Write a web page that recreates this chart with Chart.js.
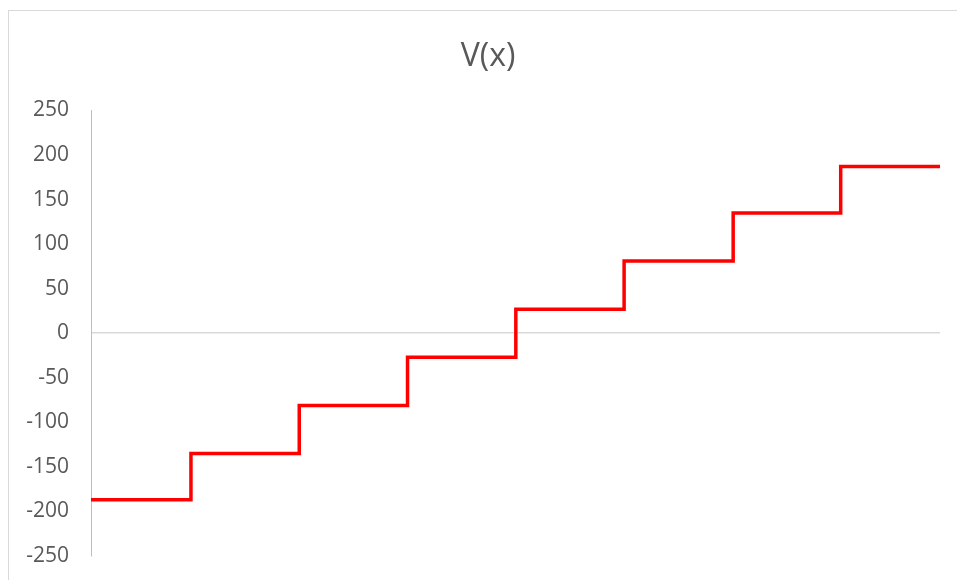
<!DOCTYPE html>
<html>
<head>
<meta charset="utf-8">
<script src="https://cdn.jsdelivr.net/npm/chart.js@4"></script>
<style>
html,body{margin:0;padding:0;background:#fff;overflow:hidden;}
#wrap{position:relative;width:957px;height:580px;}
#frame{position:absolute;left:8px;top:10px;width:1200px;height:1200px;border:1px solid #d9d9d9;box-sizing:border-box;}
canvas{position:absolute;left:0;top:0;}
</style>
</head>
<body>
<div id="wrap"><div id="frame"></div><canvas id="c" width="957" height="580"></canvas></div>
<script>
// Step positions along x (start, jumps, end)
const xBreaks = [0, 0.923, 1.923, 2.923, 3.923, 4.923, 5.93, 6.923, 7.84];
// V(x) value on each segment
const vValues = [-187, -135, -81, -27, 27, 81, 135, 187];
const yTicks = [-250, -200, -150, -100, -50, 0, 50, 100, 150, 200, 250];

const pts = xBreaks.map((x, i) => ({x: x, y: vValues[Math.min(i, vValues.length - 1)]}));

new Chart(document.getElementById('c'), {
  type: 'line',
  data: {
    datasets: [{
      data: pts,
      stepped: 'before',
      borderColor: '#ff0000',
      borderWidth: 3.5,
      pointRadius: 0,
      fill: false,
      yAxisID: 'y'
    }]
  },
  options: {
    responsive: false,
    animation: false,
    layout: {padding: {left: 0, right: -19, top: 0, bottom: 24}},
    plugins: {
      legend: {display: false},
      tooltip: {enabled: false},
      title: {
        display: true,
        text: 'V(x)',
        color: '#595959',
        font: {family: 'Open Sans', size: 32, weight: 'normal'},
        padding: {top: 38, bottom: 34}
      }
    },
    scales: {
      x: {
        type: 'linear',
        min: xBreaks[0],
        max: xBreaks[xBreaks.length - 1],
        display: false
      },
      y: {
        min: yTicks[0],
        max: yTicks[yTicks.length - 1],
        afterBuildTicks: s => { s.ticks = yTicks.map(v => ({value: v})); },
        afterFit: s => { s.width = 91; s.paddingBottom = 0; },
        border: {display: true, color: '#bfbfbf', width: 1},
        grid: {
          drawTicks: false,
          color: ctx => (ctx.tick && ctx.tick.value === 0) ? '#d9d9d9' : 'rgba(0,0,0,0)',
          lineWidth: 1.5
        },
        ticks: {
          padding: 22,
          color: '#595959',
          font: {family: 'Open Sans', size: 21}
        }
      },
      yRight: {
        position: 'right',
        min: yTicks[0],
        max: yTicks[yTicks.length - 1],
        afterFit: s => { s.width = 36; s.paddingBottom = 0; s.paddingTop = 0; },
        border: {display: false},
        grid: {display: false, drawTicks: false},
        ticks: {display: false}
      }
    }
  }
});
</script>
</body>
</html>
